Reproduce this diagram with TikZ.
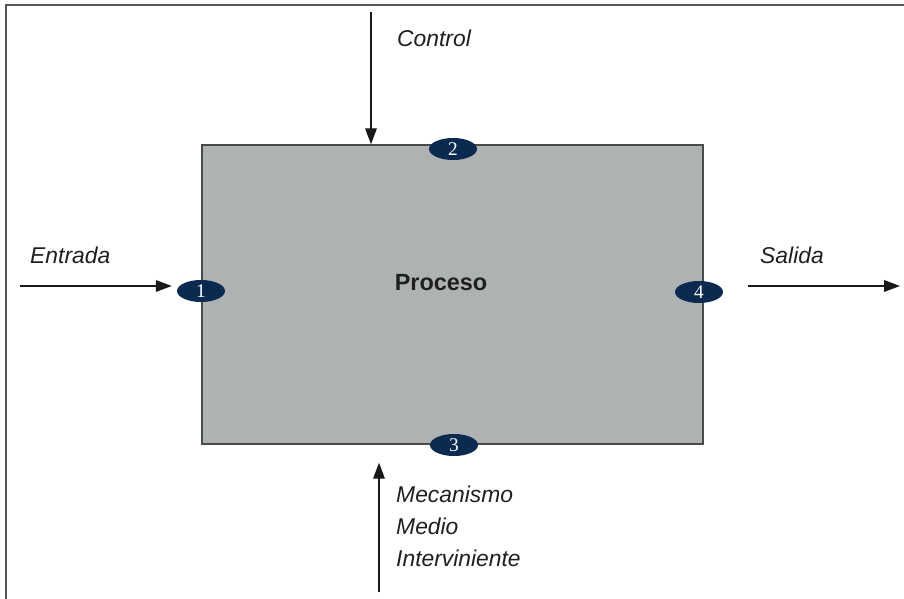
\documentclass[tikz,border=0pt]{standalone}
\usepackage{fontspec}
\setmainfont{Liberation Sans}
\newfontfamily\numfont{Liberation Serif}
\usetikzlibrary{arrows.meta, shapes.geometric}

\definecolor{cajagris}{HTML}{AFB2B3}
\definecolor{bordegris}{HTML}{4A4A4A}
\definecolor{azulosc}{HTML}{0B2A50}
\definecolor{marcogris}{HTML}{555555}

\tikzset{
  flecha/.style={line width=1.1pt, draw=black!90, -{Triangle[length=0.48cm, width=0.35cm]}},
  etiq/.style={font=\fontsize{19.5}{27.2}\selectfont\itshape, inner sep=0pt, anchor=base west, text=black!88},
  punto/.style={ellipse, fill=azulosc, minimum width=1.44cm, minimum height=0.66cm,
    inner sep=0pt, text=white, font=\numfont\fontsize{16.5}{16.5}\selectfont}
}

\begin{document}
\begin{tikzpicture}[x=0.03cm, y=-0.03cm]
			\useasboundingbox (0,0) rectangle (904,599);
			% Outer frame (only top and left edges show)
			\draw[marcogris, line width=1.7pt] (6,605) -- (6,5.5) -- (910,5.5);
			% Process box
			\node[draw=bordegris, fill=cajagris, line width=1.2pt, minimum width=15.03cm,
				minimum height=8.97cm, inner sep=0pt] (proceso) at (452.5,294.5) {};
			\node[font=\fontsize{20}{20}\selectfont\bfseries, text=black!88, inner sep=0pt] (titulo) at (441,283) {Proceso};
			% Numbered markers
			\node[punto] (uno) at (201,291) {1};
			\node[punto] (dos) at (453,149) {2};
			\node[punto] (tres) at (454,445) {3};
			\node[punto] (cuatro) at (699,292) {4};
			% Free arrow ends
			\coordinate (ctl) at (371,12);
			\coordinate (ent) at (20,286);
			\coordinate (sal) at (900,286);
			\coordinate (mec) at (379,592);
			% Arrows
			\draw[flecha] (ctl) -- (ctl |- proceso.north);
			\draw[flecha, shorten >=0.15cm] (ent) -- (ent -| uno.west);
			\draw[flecha, shorten <=0.75cm] (sal -| cuatro.east) -- (sal);
			\draw[flecha, shorten >=0.54cm] (mec) -- (mec |- proceso.south);
			% Labels
			\node[etiq] (lctl) at (397,47) {Control};
			\node[etiq] (lent) at (30,264) {Entrada};
			\node[etiq] (lsal) at (760,264) {Salida};
			\node[etiq, anchor=north west, align=left] (lmec) at (396,486) {Mecanismo\\Medio\\Interviniente};
		\end{tikzpicture}
\end{document}
